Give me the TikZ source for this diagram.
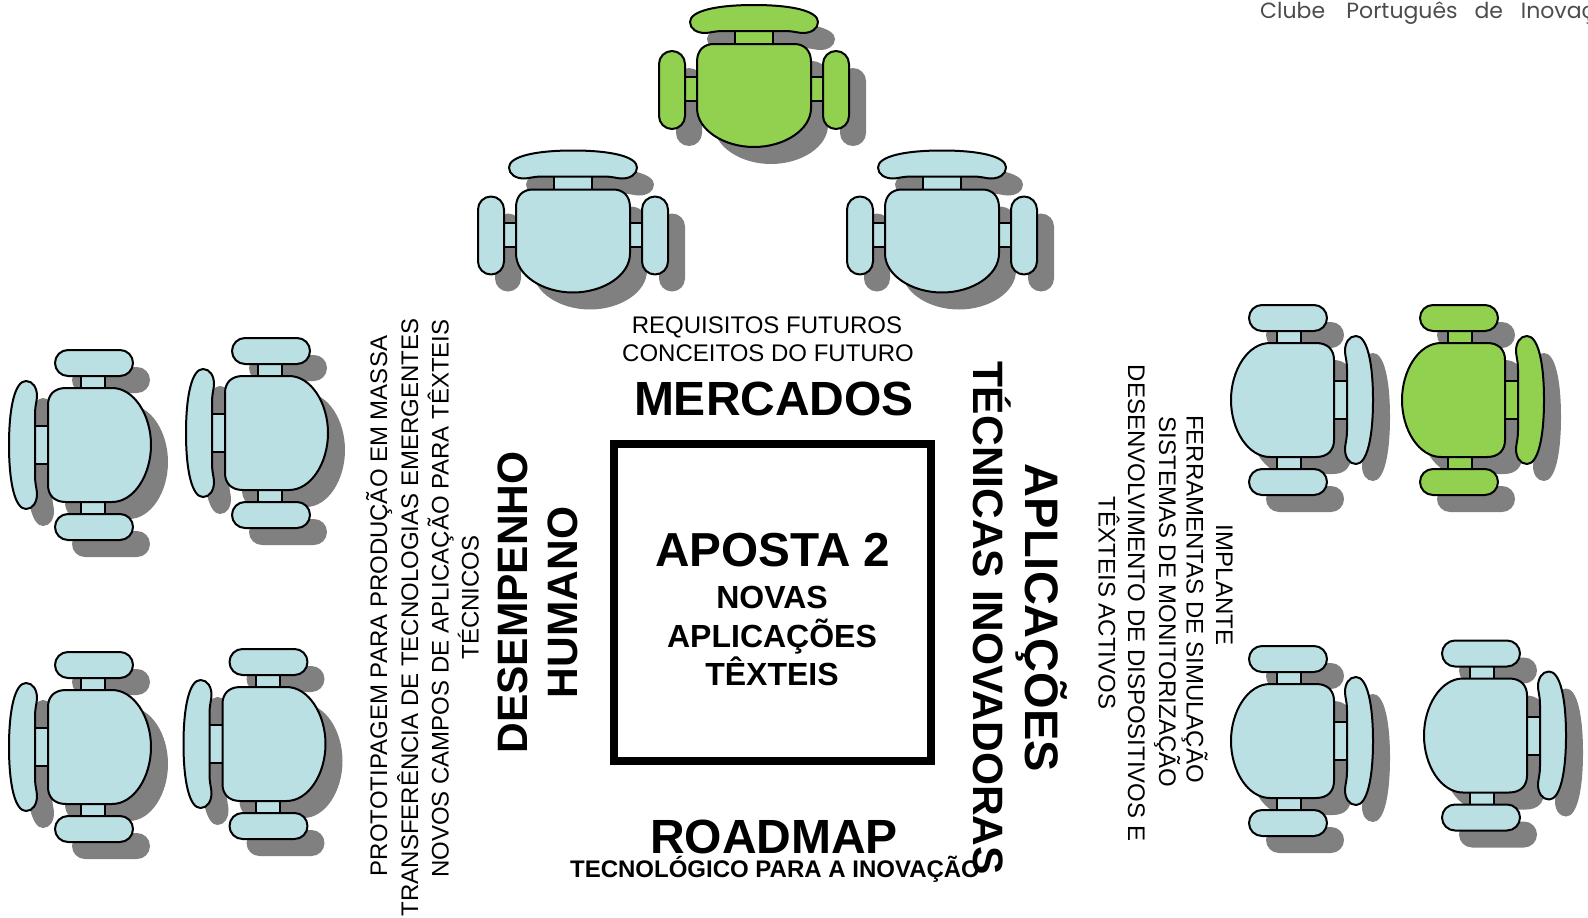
\documentclass[tikz,border=0pt]{standalone}
\usepackage{fontspec}
\setmainfont{Liberation Sans}
\newfontfamily\clubfont{Poppins}

\definecolor{chairblue}{HTML}{BBE0E3}
\definecolor{chairgreen}{HTML}{92D050}
\definecolor{chairshadow}{HTML}{808080}

\tikzset{
    chairline/.style={draw=black,line width=2pt,line join=round,fill=#1},
    shadowline/.style={fill=chairshadow},
    smalltext/.style={inner sep=0pt,font=\fontsize{24}{29}\selectfont},
    boldtext/.style={inner sep=0pt,font=\fontsize{#1}{#1}\selectfont\bfseries},
}

% All parts of one chair, seat centre at the origin
\newcommand{\chairparts}[1]{
    \path[#1] (-19,-60) rectangle (19,-44);
    \path[#1] (-71,-13) rectangle (-55,11);
    \path[#1] (55,-13) rectangle (71,11);
    \path[#1,rounded corners=13pt] (-95,-39) rectangle (-69,39);
    \path[#1,rounded corners=13pt] (69,-39) rectangle (95,39);
    \path[#1] (-64,-68) .. controls (-64,-79) and (-38,-85) .. (0,-85)
        .. controls (38,-85) and (64,-79) .. (64,-68)
        .. controls (64,-61) and (57,-57) .. (49,-57)
        .. controls (44,-57) and (40,-59) .. (30,-59) -- (-30,-59)
        .. controls (-40,-59) and (-44,-57) .. (-49,-57)
        .. controls (-57,-57) and (-64,-61) .. (-64,-68) -- cycle;
    \path[#1] (-57,-28) .. controls (-57,-40) and (-50,-46) .. (-40,-46) -- (40,-46)
        .. controls (50,-46) and (57,-40) .. (57,-28) -- (57,18)
        .. controls (57,40) and (30,57) .. (0,57)
        .. controls (-30,57) and (-57,40) .. (-57,18) -- cycle;
}
% #1,#2 centre, #3 rotation, #4 colour
\newcommand{\chair}[4]{
    \begin{scope}[shift={(#1+17,#2+17)},rotate=#3]
        \chairparts{shadowline}
    \end{scope}
    \begin{scope}[shift={(#1,#2)},rotate=#3]
        \chairparts{chairline=#4}
    \end{scope}
}

\begin{document}
\begin{tikzpicture}[x=1pt,y=-1pt]
    \useasboundingbox (0,0) rectangle (1588,918);

    % Chairs at the top
    \chair{754}{90}{0}{chairgreen}
    \chair{573}{235.5}{0}{chairblue}
    \chair{942}{235.5}{0}{chairblue}

    % Chairs on the left
    \chair{94}{445}{90}{chairblue}
    \chair{271}{433}{90}{chairblue}
    \chair{94}{747}{90}{chairblue}
    \chair{268.5}{744}{90}{chairblue}

    % Chairs on the right
    \chair{1288}{400}{-90}{chairblue}
    \chair{1459}{400}{-90}{chairgreen}
    \chair{1288}{741}{-90}{chairblue}
    \chair{1481}{735.5}{-90}{chairblue}

    % Square
    \draw[line width=7.5pt,miter limit=10] (614,444) rectangle (931,761);

    % Text in the square
    \node[boldtext=47.7,anchor=base] (aposta) at (773,566) {APOSTA 2};
    \node[boldtext=32,anchor=base] (novas) at (772,608) {NOVAS};
    \node[boldtext=32,anchor=base] (aplicacoes) at (772,647) {APLICAÇÕES};
    \node[boldtext=32,anchor=base] (texteis) at (772,685) {TÊXTEIS};

    % Top side
    \node[smalltext,anchor=base] (requisitos) at (767,333) {REQUISITOS FUTUROS};
    \node[smalltext,anchor=base] (conceitos) at (768,361) {CONCEITOS DO FUTURO};
    \node[boldtext=48,anchor=base] (mercados) at (774,415) {MERCADOS};

    % Bottom side
    \node[boldtext=48,anchor=base] (roadmap) at (774,853) {ROADMAP};
    \node[boldtext=24,anchor=base] (tecnologico) at (775,877) {TECNOLÓGICO PARA A INOVAÇÃO};

    % Left side
    \node[smalltext,anchor=base,rotate=90] (prototipagem) at (387,606) {PROTOTIPAGEM PARA PRODUÇÃO EM MASSA};
    \node[smalltext,anchor=base,rotate=90] (transferencia) at (418,617.5) {TRANSFERÊNCIA DE TECNOLOGIAS EMERGENTES};
    \node[smalltext,anchor=base,rotate=90] (campos) at (448.5,598.5) {NOVOS CAMPOS DE APLICAÇÃO PARA TÊXTEIS};
    \node[smalltext,anchor=base,rotate=90] (tecnicos) at (478.5,597.5) {TÉCNICOS};
    \node[boldtext=42.5,anchor=base,rotate=90] (desempenho) at (527.5,602.5) {DESEMPENHO};
    \node[boldtext=42.5,anchor=base,rotate=90] (humano) at (577.5,602.5) {HUMANO};

    % Right side
    \node[boldtext=47,anchor=base,rotate=-90] (aplicacoesb) at (1025,618) {APLICAÇÕES};
    \node[boldtext=42.5,anchor=base,rotate=-90] (tecnicas) at (973.5,618) {TÉCNICAS INOVADORAS};
    \node[smalltext,anchor=base,rotate=-90] (implante) at (1216,585) {IMPLANTE};
    \node[smalltext,anchor=base,rotate=-90] (ferramentas) at (1186.5,599) {FERRAMENTAS DE SIMULAÇÃO};
    \node[smalltext,anchor=base,rotate=-90] (sistemas) at (1159,602) {SISTEMAS DE MONITORIZAÇÃO};
    \node[smalltext,anchor=base,rotate=-90] (desenvolvimento) at (1128,603) {DESENVOLVIMENTO DE DISPOSITIVOS E};
    \node[smalltext,anchor=base,rotate=-90] (activos) at (1098.5,603) {TÊXTEIS ACTIVOS};

    % Header, cut by the page
    \node[inner sep=0pt,anchor=base west,text=black!70,font=\clubfont\fontsize{22}{26}\selectfont] (clube) at (1260,19) {Clube\hspace{15.4pt} Português\hspace{11pt} de\hspace{12pt} Inovação};

\end{tikzpicture}
\end{document}
